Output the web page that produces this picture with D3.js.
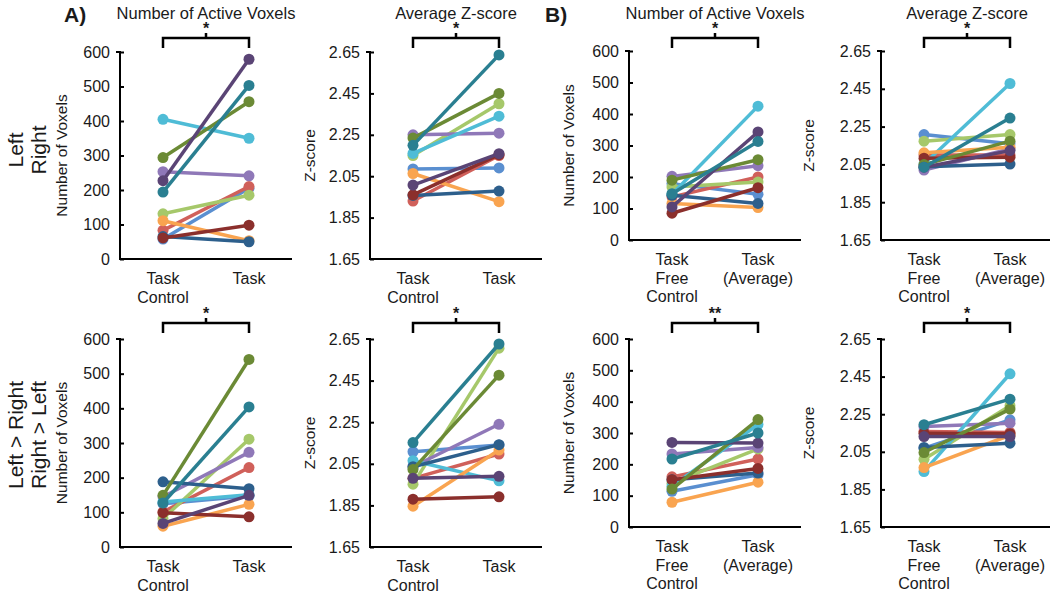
<!DOCTYPE html>
<html><head><meta charset="utf-8">
<script src="https://cdn.jsdelivr.net/npm/d3@7"></script>
<style>body{margin:0;background:#fff;}svg{font-family:"Liberation Sans",Arial,sans-serif;}</style>
</head><body><svg id="c" width="1050" height="593"></svg>
<script>
// Series (subjects), order & colours
const seriesNames = ["blue","red","green","purple","aqua","orange","darkBlue","darkRed","darkGreen","darkPurple","darkAqua"];
const seriesColors = ["#5a8fd0","#d0605a","#a6c86a","#8f78b8","#4fbcd6","#f9a450","#2d5f8c","#8b2f2c","#6b8a35","#5a4475","#2a7f91"];

const voxTicks = [0,100,200,300,400,500,600];
const zTicks = [1.65,1.85,2.05,2.25,2.45,2.65];
const catA = [["Task","Control"],["Task"]];
const catB = [["Task","Free","Control"],["Task","(Average)"]];

// A) Left / Right
const aTopVoxPre  = [58,83,131,253,405,111,65,61,294,227,194];
const aTopVoxPost = [205,210,185,241,350,53,50,98,456,579,503];
const aTopZPre  = [2.085,1.93,2.15,2.25,2.16,2.063,1.957,1.96,2.234,2.007,2.199];
const aTopZPost = [2.09,2.15,2.40,2.258,2.34,1.927,1.978,2.154,2.45,2.159,2.636];
// B) Left / Right
const bTopVoxPre  = [179,137,168,202,145,116,142,85,190,105,147];
const bTopVoxPost = [145,200,184,236,425,103,116,166,255,343,313];
const bTopZPre  = [2.208,2.10,2.173,2.02,2.052,2.111,2.038,2.083,2.049,2.035,2.035];
const bTopZPost = [2.159,2.10,2.208,2.132,2.478,2.141,2.052,2.088,2.173,2.123,2.295];
// A) Left>Right / Right>Left
const aBotVoxPre  = [125,101,82,145,130,60,188,99,149,68,127];
const aBotVoxPost = [147,229,311,273,151,123,168,87,541,149,404];
const aBotZPre  = [2.108,1.98,1.952,2.036,2.065,1.846,2.036,1.88,2.023,1.98,2.152];
const aBotZPost = [2.14,2.097,2.606,2.24,1.968,2.116,2.142,1.891,2.476,1.99,2.626];
// B) Left>Right / Right>Left
const bBotVoxPre  = [114,160,140,233,130,79,151,151,121,270,217];
const bBotVoxPost = [167,217,249,254,327,143,172,187,343,268,300];
const bBotZPre  = [2.069,2.158,2.01,2.185,1.945,1.966,2.073,2.149,2.046,2.131,2.194];
const bBotZPost = [2.22,2.153,2.295,2.202,2.465,2.138,2.096,2.146,2.277,2.131,2.33];

const svg = d3.select("#c");
const ink = "#1a1a1a";

function panel(o){
  const g = svg.append("g");
  const x = d3.scaleBand().domain([0,1]).range([o.x0, o.x0+172]);
  const cx = i => x(i) + x.bandwidth()/2;
  const y = d3.scaleLinear().domain(o.domain).range([o.y1, o.y0]);
  const ya = g.append("g").attr("transform",`translate(${o.x0},0)`)
    .call(d3.axisLeft(y).tickValues(o.ticks).tickSize(-4).tickPadding(10)
      .tickFormat(o.fmt));
  ya.select(".domain").attr("stroke","#000").attr("stroke-width",2).attr("d",`M-4,${o.y0}H0V${o.y1}`);
  ya.selectAll(".tick line").attr("stroke","#000").attr("stroke-width",2);
  ya.selectAll(".tick text").attr("font-size",16).attr("fill",ink).attr("font-family","Liberation Sans, Arial, sans-serif");
  g.append("line").attr("x1",o.x0-1).attr("x2",o.x0+172).attr("y1",o.y1).attr("y2",o.y1)
    .attr("stroke","#000").attr("stroke-width",2);
  o.cats.forEach((lines,i)=>{
    lines.forEach((t,j)=>{
      g.append("text").attr("x",cx(i)).attr("y",o.y1+25+j*18.5).attr("text-anchor","middle")
        .attr("font-size",16).attr("fill",ink).text(t);
    });
  });
  g.append("text").attr("transform",`translate(${o.ytx},${(o.y0+o.y1)/2}) rotate(-90)`)
    .attr("text-anchor","middle").attr("font-size",15.5).attr("fill",ink).text(o.ytitle);
  seriesNames.forEach((s,k)=>{
    const vals=[o.pre[k],o.post[k]];
    g.append("path").attr("d",d3.line().x((d,i)=>cx(i)).y(d=>y(d))(vals))
      .attr("stroke",seriesColors[k]).attr("stroke-width",3.5).attr("fill","none");
    vals.forEach((v,i)=>g.append("circle").attr("cx",cx(i)).attr("cy",y(v)).attr("r",5.5).attr("fill",seriesColors[k]));
  });
  const bt=o.bY, l=cx(0), r=cx(1);
  g.append("path").attr("d",`M${l},${bt+10}V${bt}H${r}V${bt+10}M${(l+r)/2},${bt}V${bt-5}`)
    .attr("stroke","#000").attr("stroke-width",2.5).attr("fill","none");
  g.append("text").attr("x",(l+r)/2).attr("y",bt-4).attr("text-anchor","middle")
    .attr("font-size",16).attr("font-weight","bold").attr("fill",ink).text(o.star);
  if(o.title) g.append("text").attr("x",(l+r)/2).attr("y",19).attr("text-anchor","middle")
    .attr("font-size",16.5).attr("fill",ink).text(o.title);
}
const fv = d3.format("d"), fz = d3.format(".2f");
panel({x0:120,y0:52,y1:259,domain:[0,600],ticks:voxTicks,fmt:fv,cats:catA,ytx:67,ytitle:"Number of Voxels",pre:aTopVoxPre,post:aTopVoxPost,bY:38,star:"*",title:"Number of Active Voxels"});
panel({x0:370,y0:52,y1:259,domain:[1.65,2.65],ticks:zTicks,fmt:fz,cats:catA,ytx:315,ytitle:"Z-score",pre:aTopZPre,post:aTopZPost,bY:38,star:"*",title:"Average Z-score"});
panel({x0:629,y0:51,y1:240,domain:[0,600],ticks:voxTicks,fmt:fv,cats:catB,ytx:574,ytitle:"Number of Voxels",pre:bTopVoxPre,post:bTopVoxPost,bY:38,star:"*",title:"Number of Active Voxels"});
panel({x0:881,y0:51,y1:240,domain:[1.65,2.65],ticks:zTicks,fmt:fz,cats:catB,ytx:814,ytitle:"Z-score",pre:bTopZPre,post:bTopZPost,bY:38,star:"*",title:"Average Z-score"});
panel({x0:120,y0:339,y1:547,domain:[0,600],ticks:voxTicks,fmt:fv,cats:catA,ytx:67,ytitle:"Number of Voxels",pre:aBotVoxPre,post:aBotVoxPost,bY:323,star:"*"});
panel({x0:370,y0:339,y1:547,domain:[1.65,2.65],ticks:zTicks,fmt:fz,cats:catA,ytx:315,ytitle:"Z-score",pre:aBotZPre,post:aBotZPost,bY:323,star:"*"});
panel({x0:629,y0:339,y1:527,domain:[0,600],ticks:voxTicks,fmt:fv,cats:catB,ytx:574,ytitle:"Number of Voxels",pre:bBotVoxPre,post:bBotVoxPost,bY:323,star:"**"});
panel({x0:881,y0:339,y1:527,domain:[1.65,2.65],ticks:zTicks,fmt:fz,cats:catB,ytx:814,ytitle:"Z-score",pre:bBotZPre,post:bBotZPost,bY:323,star:"*"});

svg.append("text").attr("x",64).attr("y",22).attr("font-size",21).attr("font-weight","bold").attr("fill",ink).text("A)");
svg.append("text").attr("x",545).attr("y",22).attr("font-size",21).attr("font-weight","bold").attr("fill",ink).text("B)");
function rowLabel(lines,cy){
  lines.forEach((t,j)=>svg.append("text").attr("transform",`translate(${23+j*23},${cy}) rotate(-90)`)
    .attr("text-anchor","middle").attr("font-size",21).attr("fill",ink).text(t));
}
rowLabel(["Left","Right"],150);
rowLabel(["Left > Right","Right > Left"],435);
</script></body></html>
